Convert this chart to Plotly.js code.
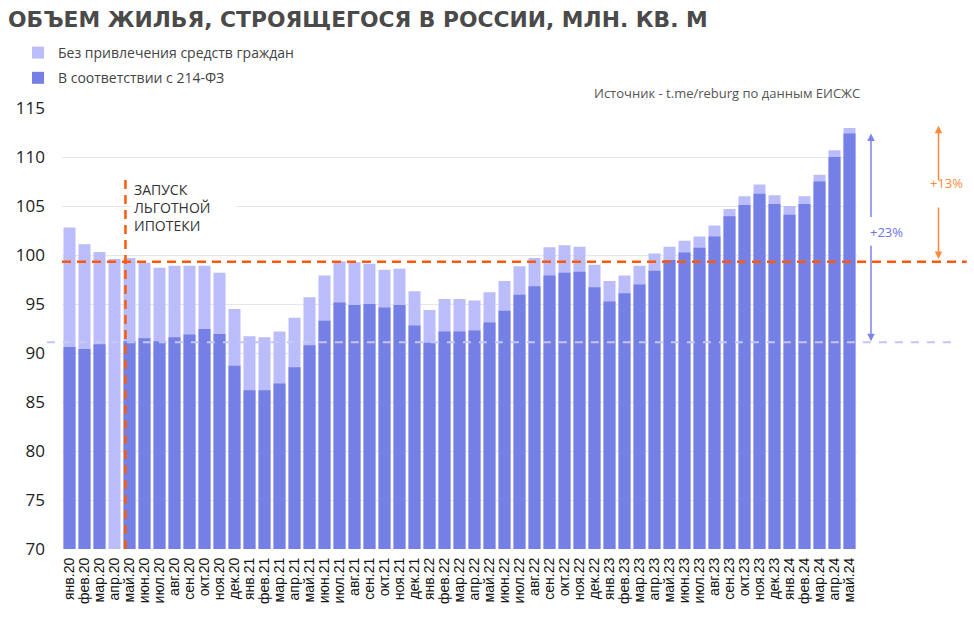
<!DOCTYPE html>
<html>
<head>
<meta charset="utf-8">
<script src="https://cdn.plot.ly/plotly-3.0.1.min.js"></script>
<style>
  html, body { margin: 0; padding: 0; background: #fff; }
  #chart { width: 974px; height: 621px; }
</style>
</head>
<body>
<div id="chart"></div>
<script>
// месяцы (подписи оси X)
var months = [
  "янв.20","фев.20","мар.20","апр.20","май.20","июн.20","июл.20","авг.20","сен.20","окт.20","ноя.20","дек.20",
  "янв.21","фев.21","мар.21","апр.21","май.21","июн.21","июл.21","авг.21","сен.21","окт.21","ноя.21","дек.21",
  "янв.22","фев.22","мар.22","апр.22","май.22","июн.22","июл.22","авг.22","сен.22","окт.22","ноя.22","дек.22",
  "янв.23","фев.23","мар.23","апр.23","май.23","июн.23","июл.23","авг.23","сен.23","окт.23","ноя.23","дек.23",
  "янв.24","фев.24","мар.24","апр.24","май.24"
];

// всего строится, млн кв. м (верх светлого столбика)
var total = [
  102.8, 101.1, 100.3, 99.6, 99.7, 99.2, 98.7, 98.9, 98.9, 98.9, 98.2, 94.5,
  91.7, 91.6, 92.2, 93.6, 95.7, 97.9, 99.35, 99.25, 99.1, 98.5, 98.6, 96.3,
  94.4, 95.5, 95.5, 95.35, 96.2, 97.35, 98.85, 99.7, 100.8, 101.0, 100.85, 99.0,
  97.35, 97.9, 98.9, 100.15, 100.85, 101.45, 101.9, 103.0, 104.7, 106.0, 107.2, 106.1,
  105.0, 106.0, 108.2, 110.7, 112.95
];

// в соответствии с 214-ФЗ
var fz214 = [
  90.6, 90.4, 90.9, null, 91.2, 91.5, 91.2, 91.6, 91.9, 92.45, 91.95, 88.7,
  86.2, 86.2, 86.9, 88.55, 90.8, 93.3, 95.15, 94.9, 95.0, 94.65, 94.9, 92.8,
  91.05, 92.2, 92.2, 92.3, 93.1, 94.3, 95.95, 96.8, 97.9, 98.2, 98.3, 96.7,
  95.25, 96.1, 97.0, 98.4, 99.5, 100.25, 100.75, 101.9, 103.95, 105.1, 106.25, 105.2,
  104.1, 105.2, 107.5, 110.0, 112.4
];

var levelStart = 91.1;   // уровень на старте
var levelPre = 99.3;     // уровень до запуска льготной ипотеки

var lightColor = "#bbbcfa";
var darkColor = "#7580e6";
var orange = "#ff5a0a";
var txtFont = "Open Sans, DejaVu Sans, sans-serif";

var data = [
  {
    type: "bar", x: months, y: total, name: "Без привлечения средств граждан",
    legendgroup: "a", marker: {color: lightColor}, hoverinfo: "skip"
  },
  {
    type: "bar", x: months, y: fz214, name: "В соответствии с 214-ФЗ",
    legendgroup: "b", marker: {color: darkColor}, hoverinfo: "skip"
  }
];

var layout = {
  width: 974,
  height: 621,
  margin: {l: 62, r: 117, t: 108, b: 72, autoexpand: false},
  paper_bgcolor: "#fff",
  plot_bgcolor: "#fff",
  barmode: "overlay",
  bargap: 0.2,
  title: {
    text: "ОБЪЕМ ЖИЛЬЯ, СТРОЯЩЕГОСЯ В РОССИИ, МЛН. КВ. М",
    xref: "container", x: 8 / 974, xanchor: "left",
    yref: "container", y: 1 - 19 / 621, yanchor: "middle",
    font: {family: "DejaVu Sans, sans-serif", size: 21.8, color: "#4a4a4a", weight: 600}
  },
  showlegend: true,
  legend: {
    xref: "container", yref: "container",
    x: 18 / 974, y: 1 - 37 / 621, xanchor: "left", yanchor: "top",
    orientation: "v", traceorder: "grouped", tracegroupgap: 4,
    font: {family: txtFont, size: 14, color: "#444"},
    itemclick: false, itemdoubleclick: false
  },
  xaxis: {
    type: "category",
    range: [-0.5, 52.5],
    tickmode: "array",
    tickvals: months,
    ticktext: months,
    tickangle: -90,
    tickfont: {family: "Liberation Sans, Arial, sans-serif", size: 14, color: "#111"},
    ticks: "",
    ticklabelstandoff: 5,
    showgrid: false,
    showline: false,
    zeroline: false,
    fixedrange: true
  },
  yaxis: {
    range: [70, 115],
    dtick: 5,
    tick0: 70,
    gridcolor: "#e6e6e6",
    gridwidth: 1,
    zeroline: false,
    showline: false,
    ticks: "",
    ticklabelstandoff: 16,
    tickfont: {family: txtFont, size: 17, color: "#222"},
    fixedrange: true
  },
  shapes: [
    // горизонтальная оранжевая линия
    {type: "line", xref: "paper", yref: "y", x0: 0, x1: 1.138, y0: levelPre, y1: levelPre,
     line: {color: orange, width: 2.5, dash: "9px,6px"}},
    // сиреневая линия
    {type: "line", xref: "paper", yref: "y", x0: -0.019, x1: 1.126, y0: levelStart, y1: levelStart,
     line: {color: "#c6c6f6", width: 2, dash: "8px,8px"}},
    // вертикальная линия запуска льготной ипотеки
    {type: "line", xref: "x", yref: "y", x0: 3.73, x1: 3.73, y0: 70, y1: 108.2,
     line: {color: orange, width: 2.5, dash: "9px,6px"}}
  ],
  annotations: [
    {
      text: "Источник - t.me/reburg по данным ЕИСЖС",
      xref: "paper", yref: "paper", x: 1.0063, y: 1.034, xanchor: "right", yanchor: "middle",
      showarrow: false, font: {family: txtFont, size: 13, color: "#555"}
    },
    {
      text: "ЗАПУСК<br>ЛЬГОТНОЙ<br>ИПОТЕКИ",
      xref: "paper", yref: "y", x: 0.1535, y: 104.8, xanchor: "center", yanchor: "middle",
      width: 100, align: "left", bgcolor: "#fff", borderpad: 2,
      showarrow: false, font: {family: txtFont, size: 14, color: "#333"}
    },
    // +23%
    {text: "", xref: "paper", yref: "y", x: 1.0176, y: 112.4, showarrow: true,
     ax: 0, ay: 85, arrowhead: 2, arrowsize: 1, arrowwidth: 1.5, arrowcolor: "#7b83ec"},
    {text: "", xref: "paper", yref: "y", x: 1.0176, y: 91.2, showarrow: true,
     ax: 0, ay: -97, arrowhead: 2, arrowsize: 1, arrowwidth: 1.5, arrowcolor: "#7b83ec"},
    {text: "+23%", xref: "paper", yref: "y", x: 1.0377, y: 102.3, showarrow: false,
     xanchor: "center", yanchor: "middle", font: {family: txtFont, size: 13, color: "#6d74e8"}},
    // +13%
    {text: "", xref: "paper", yref: "y", x: 1.1025, y: 113.2, showarrow: true,
     ax: 0, ay: 56, arrowhead: 2, arrowsize: 1, arrowwidth: 1.5, arrowcolor: "#ff8a3a"},
    {text: "", xref: "paper", yref: "y", x: 1.1025, y: 99.6, showarrow: true,
     ax: 0, ay: -53, arrowhead: 2, arrowsize: 1, arrowwidth: 1.5, arrowcolor: "#ff8a3a"},
    {text: "+13%", xref: "paper", yref: "y", x: 1.1128, y: 107.3, showarrow: false,
     xanchor: "center", yanchor: "middle", font: {family: txtFont, size: 13, color: "#ff8a3a"}}
  ]
};

Plotly.newPlot("chart", data, layout, {displayModeBar: false, staticPlot: true});
</script>
</body>
</html>
